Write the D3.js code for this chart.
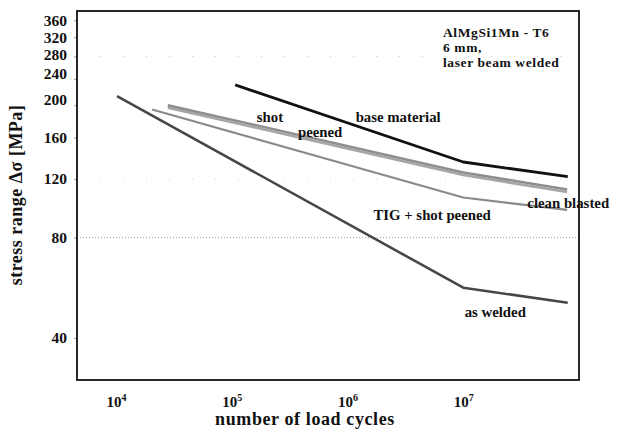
<!DOCTYPE html>
<html lang="en">
<head>
<meta charset="UTF-8">
<title>S-N curves AlMgSi1Mn - T6</title>
<script src="https://d3js.org/d3.v7.min.js"></script>
<style>
  body {
    margin: 0;
    background-color: #ffffff;
  }
  svg text {
    font-family: "Liberation Serif", "DejaVu Serif", serif;
    font-weight: bold;
    fill: #111;
  }
</style>
</head>
<body>
<svg id="chart" width="620" height="429"></svg>
<script>
// S-N data: [load cycles, stress range MPa]
const baseMaterial = [[1.07e5, 230], [1e7, 135], [8e7, 122]];
const shotPeened = [[2.8e4, 200], [1e7, 125.6], [7.9e7, 111.6]];
const cleanBlasted = [[2.8e4, 196.6], [1e7, 123.4], [7.9e7, 109.7]];
const tigShotPeened = [[2.05e4, 194], [1e7, 105.6], [7.9e7, 97]];
const asWelded = [[1.02e4, 213], [1e7, 56.6], [8e7, 51]];

const yTicks = [40, 80, 120, 160, 200, 240, 280, 320, 360];
const xTicks = [1e4, 1e5, 1e6, 1e7];
const gridLevels = [280, 120, 80];

const svg = d3.select('#chart');

// plot box
const box = { left: 77, top: 11, right: 579, bottom: 380 };

const x = d3.scaleLog().domain([4600, 1.0e8]).range([box.left, box.right]);
const y = d3.scaleLog().domain([29.9, 383.5]).range([box.bottom, box.top]);

// dotted grid lines (the 80 one is the clear one, the others barely there)
svg.append('g')
  .selectAll('line')
  .data(gridLevels)
  .join('line')
  .attr('x1', box.left)
  .attr('x2', box.right)
  .attr('y1', d => y(d))
  .attr('y2', d => y(d))
  .attr('stroke', d => d === 80 ? '#999' : '#ccc')
  .attr('stroke-width', 1)
  .attr('stroke-dasharray', d => d === 80 ? '1,2' : '1,22');

// y axis
const yAxis = svg.append('g')
  .attr('transform', `translate(${box.left},0)`)
  .call(d3.axisLeft(y).tickValues(yTicks).tickFormat(d3.format('d')).tickSize(3).tickPadding(7));
yAxis.select('.domain').remove();
yAxis.selectAll('line').attr('stroke', '#999');
// the middle labels sit a little above their ticks in the original
const labelShift = { 200: -6, 240: -5, 280: -2 };
yAxis.selectAll('text')
  .attr('y', d => labelShift[d] || 0)
  .style('font-size', '15.5px')
  .style('font-family', '"Liberation Serif", serif')
  .style('font-weight', 'bold')
  .attr('fill', '#111');

// x axis with 10^n labels
const xAxis = svg.append('g')
  .attr('transform', `translate(0,${box.bottom})`)
  .call(d3.axisBottom(x).tickValues(xTicks).tickSize(0).tickFormat(''));
xAxis.select('.domain').remove();
const xLab = xAxis.selectAll('.tick').append('text')
  .attr('y', 27)
  .attr('text-anchor', 'middle')
  .style('font-size', '15px');
xLab.append('tspan').text('10');
xLab.append('tspan')
  .attr('dy', -6)
  .style('font-size', '10px')
  .text(d => Math.round(Math.log10(d)));

// frame
svg.append('rect')
  .attr('x', box.left)
  .attr('y', box.top)
  .attr('width', box.right - box.left)
  .attr('height', box.bottom - box.top)
  .attr('fill', 'none')
  .attr('stroke', '#111')
  .attr('stroke-width', 1.8);

// curves
const line = d3.line().x(d => x(d[0])).y(d => y(d[1]));
const curves = [
  { data: cleanBlasted, color: '#a6a6a6', width: 2.6 },
  { data: shotPeened, color: '#8e8e8e', width: 2.6 },
  { data: tigShotPeened, color: '#8a8a8a', width: 2.2 },
  { data: asWelded, color: '#474747', width: 2.6 },
  { data: baseMaterial, color: '#111', width: 2.8 }
];
svg.append('g')
  .selectAll('path')
  .data(curves)
  .join('path')
  .attr('d', d => line(d.data))
  .attr('fill', 'none')
  .attr('stroke', d => d.color)
  .attr('stroke-width', d => d.width)
  .attr('stroke-linejoin', 'round');

// curve labels, anchored in data units
const curveLabels = [
  { text: 'shot', at: [2.14e5, 185] },
  { text: 'peened', at: [5.8e5, 166] },
  { text: 'base material', at: [2.74e6, 185] },
  { text: 'clean blasted', at: [8.07e7, 102] },
  { text: 'TIG + shot peened', at: [5.38e6, 93.8] },
  { text: 'as welded', at: [1.89e7, 47.9] }
];
svg.append('g')
  .selectAll('text')
  .data(curveLabels)
  .join('text')
  .attr('x', d => x(d.at[0]))
  .attr('y', d => y(d.at[1]))
  .attr('dy', '0.35em')
  .attr('text-anchor', 'middle')
  .style('font-size', '14.8px')
  .text(d => d.text);

// material note in the corner
const note = ['AlMgSi1Mn - T6', '6 mm,', 'laser beam welded'];
svg.append('g')
  .selectAll('text')
  .data(note)
  .join('text')
  .attr('x', 443)
  .attr('y', (d, i) => 37 + i * 15)
  .style('font-size', '13.5px')
  .style('letter-spacing', '0.6px')
  .text(d => d);

// axis titles
svg.append('text')
  .attr('x', 305)
  .attr('y', 425)
  .attr('text-anchor', 'middle')
  .style('font-size', '18px')
  .style('letter-spacing', '0.6px')
  .text('number of load cycles');

svg.append('text')
  .attr('transform', 'translate(22,195) rotate(-90)')
  .attr('text-anchor', 'middle')
  .style('font-size', '18px')
  .style('letter-spacing', '0.5px')
  .text('stress range \u0394\u03c3  [MPa]');
</script>
</body>
</html>
